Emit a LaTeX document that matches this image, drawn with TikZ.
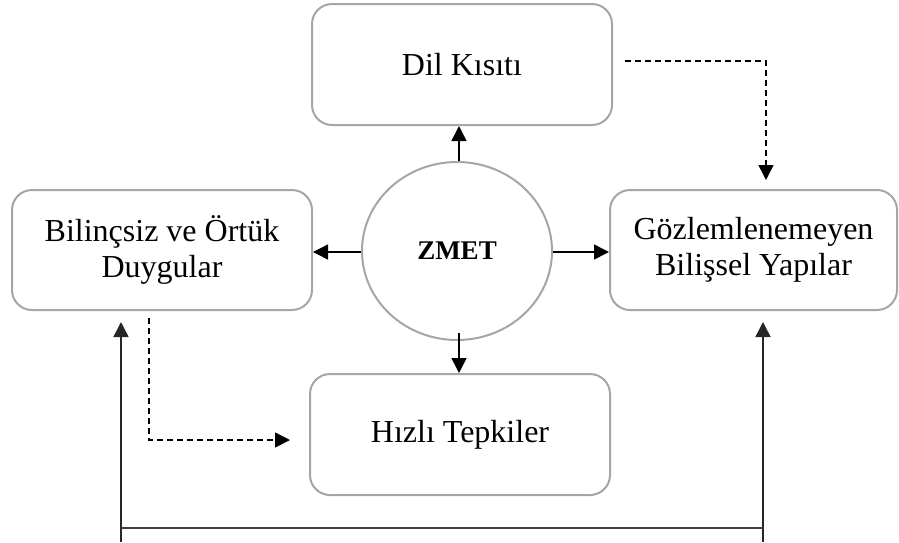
\documentclass[tikz,border=0pt]{standalone}
\usepackage{fontspec}
\setmainfont{Liberation Serif}
\usetikzlibrary{arrows.meta,shapes.geometric}
\begin{document}
\begin{tikzpicture}[x=1pt,y=-1pt,
  box/.style={draw=black!35,line width=2pt,rounded corners=20pt,fill=white,align=center,inner sep=0pt,
    font=\fontsize{32}{36}\selectfont},
  conn/.style={line width=1.5pt,-{Triangle[length=15pt,width=15pt]}},
  dconn/.style={conn,dash pattern=on 6pt off 4pt}]
\useasboundingbox (0,0) rectangle (899,542);
\node[box,minimum width=300pt,minimum height=121pt] (dil) at (462,64.5) {Dil Kısıtı};
\node[box,minimum width=300pt,minimum height=120pt] (left) at (162,250) {Bilinçsiz ve Örtük\\Duygular};
\node[box,minimum width=287pt,minimum height=120pt] (right) at (753.5,250) {Gözlemlenemeyen\\Bilişsel Yapılar};
\node[box,minimum width=300pt,minimum height=121pt] (hizli) at (460,434.5) {Hızlı Tepkiler};
\node[ellipse,draw=black!35,line width=2pt,minimum width=190pt,minimum height=178pt,inner sep=0pt,
  font=\fontsize{27}{30}\selectfont\bfseries] (zmet) at (457,251) {ZMET};

\draw[conn] ([xshift=2pt]zmet.north) -- ([xshift=2pt]zmet.north |- dil.south);
\draw[conn] ([yshift=-1pt]zmet.west) -- ([yshift=-1pt]zmet.west -| left.east);
\draw[conn] ([yshift=-1pt]zmet.east) -- ([yshift=-1pt]zmet.east -| right.west);
\draw[conn] ([xshift=2pt,yshift=8pt]zmet.south) -- ([xshift=2pt]zmet.south |- hizli.north);

\coordinate (dA) at (625,61);
\coordinate (dAe) at (766,180);
\draw[dconn] (dA) -| (dAe);
\coordinate (dB) at (149,318);
\coordinate (dBe) at (290,440);
\draw[dconn] (dB) |- (dBe);

\coordinate (bl) at (121,542);
\coordinate (br) at (763,542);
\coordinate (blt) at (121,322);
\coordinate (brt) at (763,322);
\coordinate (hl) at (121,528);
\coordinate (hr) at (763,528);
\draw[conn,black!85] (bl) -- (blt);
\draw[conn,black!85] (br) -- (brt);
\draw[line width=1.8pt,black!75] (hl) -- (hr);
\end{tikzpicture}
\end{document}
